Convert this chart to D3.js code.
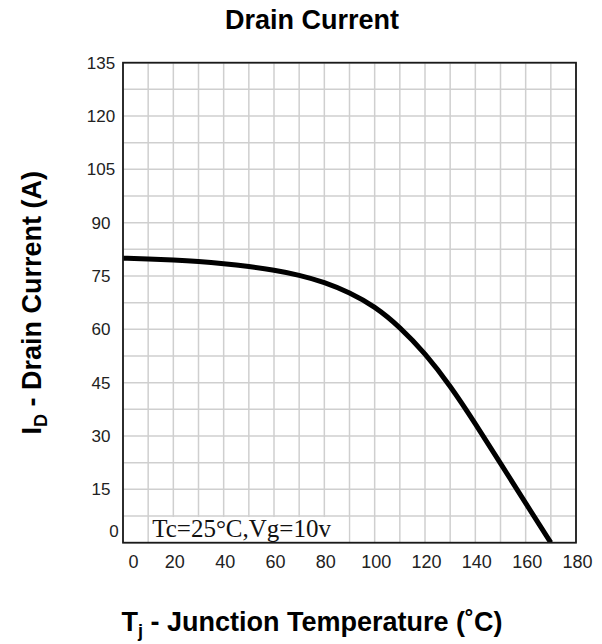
<!DOCTYPE html>
<html>
<head>
<meta charset="utf-8">
<script src="https://cdn.jsdelivr.net/npm/d3@7"></script>
<style>
  body { margin: 0; background: #fff; }
</style>
</head>
<body>
<svg id="chart" width="602" height="644"></svg>
<script>
// junction temperature (°C) and drain current (A)
const temps   = [0, 10, 20, 30, 40, 50, 60, 70, 80, 90, 100, 110, 120, 130, 140, 150, 160, 170];
const current = [80, 79.8, 79.5, 79.1, 78.5, 77.7, 76.7, 75.3, 73.3, 70.4, 66.5, 60.7, 53.3, 44.2, 33.5, 22.3, 11.1, 0];

const xTicks = [0, 20, 40, 60, 80, 100, 120, 140, 160, 180];
const yTicks = [0, 15, 30, 45, 60, 75, 90, 105, 120, 135];
const xGrid = d3.range(0, 181, 10);
const yGrid = d3.range(0, 136, 7.5);

const titleText = "Drain Current";
const noteText = "Tc=25°C,Vg=10v";

const data = temps.map((t, i) => ({ t, v: current[i] }));

const svg = d3.select("#chart");
const margin = { top: 62.7, right: 26, bottom: 101.3, left: 123 };
const width = +svg.attr("width");
const height = +svg.attr("height");

const x = d3.scaleLinear()
    .domain([0, 180])
    .range([margin.left, width - margin.right]);

const y = d3.scaleLinear()
    .domain([0, 135])
    .range([height - margin.bottom, margin.top]);

const sans = "'Liberation Sans', Arial, sans-serif";

// grid
svg.append("g")
    .selectAll("line")
    .data(xGrid)
    .join("line")
    .attr("x1", d => x(d)).attr("x2", d => x(d))
    .attr("y1", y(0)).attr("y2", y(135))
    .attr("stroke", "#cfcfcf")
    .attr("stroke-width", 1.5);

svg.append("g")
    .selectAll("line")
    .data(yGrid)
    .join("line")
    .attr("x1", x(0)).attr("x2", x(180))
    .attr("y1", d => y(d)).attr("y2", d => y(d))
    .attr("stroke", "#cfcfcf")
    .attr("stroke-width", 1.5);

// note box covers the grid on the bottom row
svg.append("rect")
    .attr("x", x(10) + 1)
    .attr("y", y(7.5) + 1)
    .attr("width", x(90) - x(10) - 2)
    .attr("height", y(0) - y(7.5) - 1.5)
    .attr("fill", "#fff");

svg.append("text")
    .attr("x", x(10) + 4)
    .attr("y", y(0) - 6)
    .attr("font-family", "'Liberation Serif', 'Times New Roman', serif")
    .attr("font-size", 25)
    .attr("fill", "#111")
    .text(noteText);

// curve
svg.append("clipPath").attr("id", "plot-clip")
    .append("rect")
    .attr("x", x(0)).attr("y", y(135))
    .attr("width", x(180) - x(0)).attr("height", y(0) - y(135));

const line = d3.line()
    .x(d => x(d.t))
    .y(d => y(d.v))
    .curve(d3.curveBasis);

svg.append("path")
    .datum(data)
    .attr("clip-path", "url(#plot-clip)")
    .attr("d", line)
    .attr("fill", "none")
    .attr("stroke", "#000")
    .attr("stroke-width", 5);

// frame
svg.append("rect")
    .attr("x", x(0)).attr("y", y(135))
    .attr("width", x(180) - x(0)).attr("height", y(0) - y(135))
    .attr("fill", "none")
    .attr("stroke", "#1a1a1a")
    .attr("stroke-width", 1.8);

// x axis labels
const gx = svg.append("g")
    .attr("transform", `translate(0,${y(0)})`)
    .call(d3.axisBottom(x).tickValues(xTicks).tickSize(0).tickPadding(13));
gx.select(".domain").remove();
gx.selectAll("text")
    .attr("font-family", sans)
    .attr("font-size", 18)
    .attr("fill", "#222")
    .attr("x", d => d === 0 ? 10 : 1);

// y axis labels
const gy = svg.append("g")
    .attr("transform", `translate(${x(0)},0)`)
    .call(d3.axisLeft(y).tickValues(yTicks).tickSize(0));
gy.select(".domain").remove();
gy.selectAll("text")
    .attr("font-family", sans)
    .attr("font-size", 17)
    .attr("fill", "#222")
    .attr("text-anchor", "middle")
    .attr("x", d => d === 0 ? -9 : -22)
    .attr("y", d => d === 0 ? -12 : 0);

// title
svg.append("text")
    .attr("x", 312)
    .attr("y", 29)
    .attr("text-anchor", "middle")
    .attr("font-family", sans)
    .attr("font-weight", "bold")
    .attr("font-size", 27)
    .text(titleText);

// y title
const yt = svg.append("text")
    .attr("transform", `translate(41,${(y(0) + y(135)) / 2}) rotate(-90)`)
    .attr("text-anchor", "middle")
    .attr("font-family", sans)
    .attr("font-weight", "bold")
    .attr("font-size", 27);
yt.append("tspan").text("I");
yt.append("tspan").attr("font-size", 18).attr("dy", 6).text("D");
yt.append("tspan").attr("dy", -6).text(" - Drain Current (A)");

// x title
const xt = svg.append("text")
    .attr("x", 312)
    .attr("y", 631)
    .attr("text-anchor", "middle")
    .attr("font-family", sans)
    .attr("font-weight", "bold")
    .attr("font-size", 27);
xt.append("tspan").text("T");
xt.append("tspan").attr("font-size", 18).attr("dy", 6).text("j");
xt.append("tspan").attr("dy", -6).text(" - Junction Temperature (˚C)");
</script>
</body>
</html>
